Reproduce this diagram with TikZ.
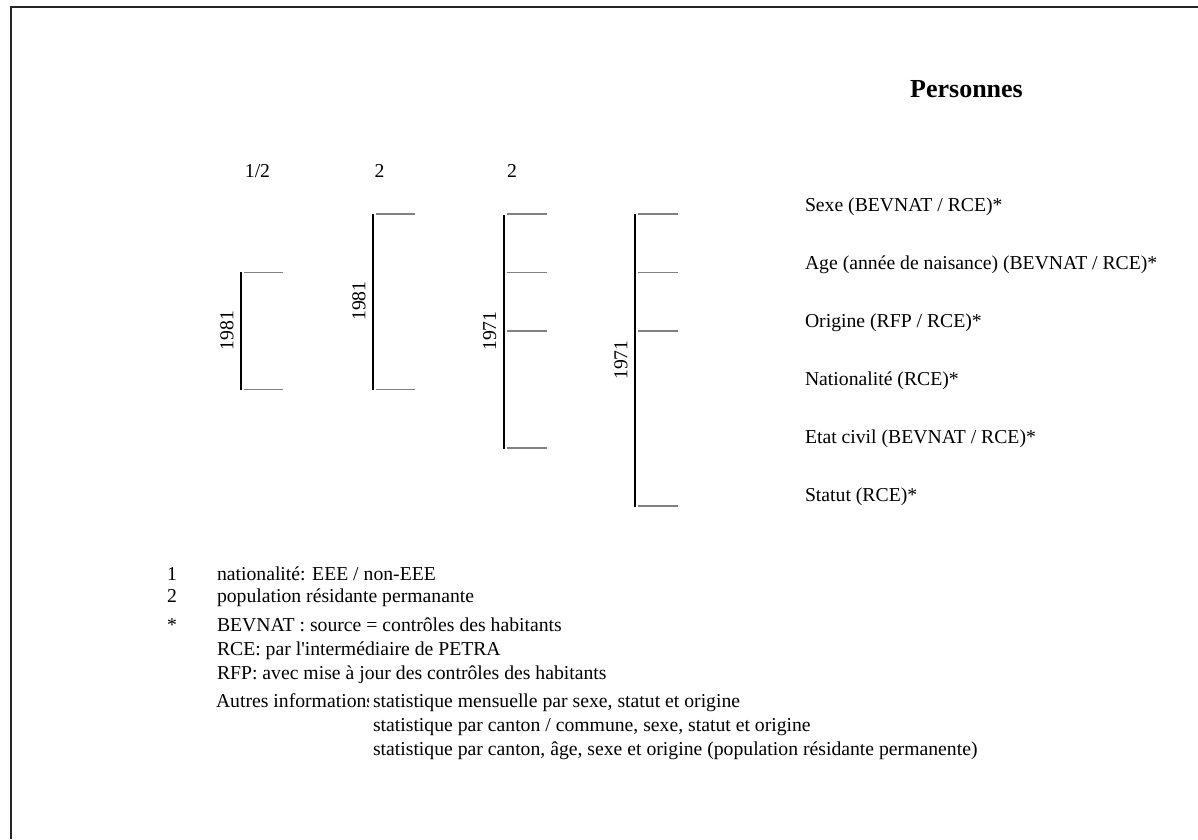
\documentclass[tikz,border=0pt]{standalone}
\usepackage{fontspec}
\setmainfont{Liberation Serif}
\newfontfamily\rawserif{Liberation Serif}
\begin{document}
\begin{tikzpicture}[x=1pt,y=-1pt,
  txt/.style={inner sep=0pt, outer sep=0pt, font=\rawserif\fontsize{19.7}{23}\selectfont},
  rowlbl/.style={txt, anchor=base west},
  yearlbl/.style={txt, rotate=90, anchor=center},
  title/.style={inner sep=0pt, font=\fontsize{26}{30}\selectfont\bfseries, anchor=base},
  frame/.style={line width=2pt, black!85},
  span/.style={line width=2.2pt, black},
  tick/.style={line width=1.6pt, black!50}]
\useasboundingbox (0,0) rectangle (1198,839);
% frame (top and left only)
\draw[frame] (11,839) -- (11,6.7) -- (1198,6.7);
% title
\node[title] (title) at (966.5,97.5) {Personnes};
% column headers
\node[txt, anchor=base] (h1) at (257.5,177.5) {1/2};
\node[txt, anchor=base] (h2) at (379.5,177.5) {2};
\node[txt, anchor=base] (h3) at (512,177.5) {2};
% row levels
\def\rA{214}\def\rB{272.5}\def\rC{331}\def\rD{389.3}\def\rE{447.8}\def\rF{506.2}
% bracket 1
\draw[span] (240.7,\rB-0.5) -- (240.7,\rD+1);
\foreach \yy in {\rB,\rD} \draw[tick] (244,\yy) -- (283,\yy);
\node[yearlbl] (y1) at (227,330.5) {1981};
% bracket 2
\draw[span] (372.7,\rA-0.5) -- (372.7,\rD+1);
\foreach \yy in {\rA,\rD} \draw[tick] (376,\yy) -- (415,\yy);
\node[yearlbl] (y2) at (359,301) {1981};
% bracket 3
\draw[span] (504,\rA+0.5) -- (504,\rE+1);
\foreach \yy in {\rA,\rB,\rC,\rE} \draw[tick] (506.7,\yy) -- (546.7,\yy);
\node[yearlbl] (y3) at (489.7,331) {1971};
% bracket 4
\draw[span] (635,\rA-0.5) -- (635,\rF+1);
\foreach \yy in {\rA,\rB,\rC,\rF} \draw[tick] (638,\yy) -- (677.7,\yy);
\node[yearlbl] (y4) at (621,360) {1971};
% row labels
\node[rowlbl] (l1) at (805,211) {Sexe (BEVNAT / RCE)*};
\node[rowlbl] (l2) at (805,269) {Age (année de naisance) (BEVNAT / RCE)*};
\node[rowlbl] (l3) at (805,327) {Origine (RFP / RCE)*};
\node[rowlbl] (l4) at (805,385) {Nationalité (RCE)*};
\node[rowlbl] (l5) at (805,443) {Etat civil (BEVNAT / RCE)*};
\node[rowlbl] (l6) at (805,501) {Statut (RCE)*};
% footnotes
\node[txt, anchor=base] (n1) at (172,580.5) {1};
\node[rowlbl] (f1) at (217,580.5) {nationalité: EEE / non-EEE};
\node[txt, anchor=base] (n2) at (172,602) {2};
\node[rowlbl] (f2) at (217,602) {population résidante permanante};
\node[txt, anchor=base] (n3) at (172,631.5) {*};
\node[rowlbl] (f3) at (217,631.5) {BEVNAT : source = contrôles des habitants};
\node[rowlbl] (f4) at (217,655.5) {RCE: par l'intermédiaire de PETRA};
\node[rowlbl] (f5) at (217,679) {RFP: avec mise à jour des contrôles des habitants};
\begin{scope}
\clip (200,680) rectangle (368,720);
\node[rowlbl] (a0) at (216,707) {Autres informations};
\end{scope}
\node[rowlbl] (a1) at (373,707) {statistique mensuelle par sexe, statut et origine};
\node[rowlbl] (a2) at (373,731) {statistique par canton / commune, sexe, statut et origine};
\node[rowlbl] (a3) at (373,755) {statistique par canton, âge, sexe et origine (population résidante permanente)};
\end{tikzpicture}
\end{document}
